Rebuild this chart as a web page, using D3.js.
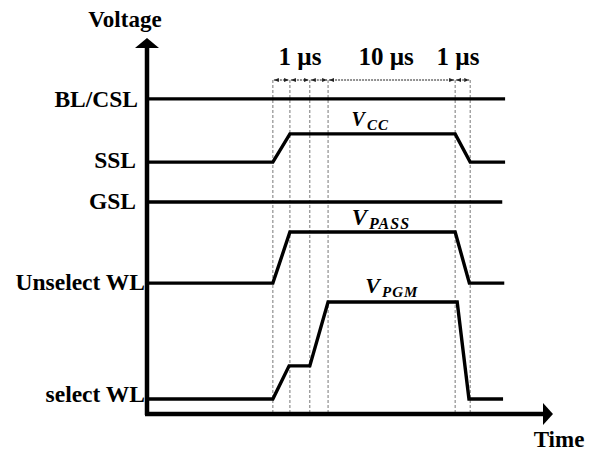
<!DOCTYPE html>
<html><head><meta charset="utf-8">
<script src="https://cdn.jsdelivr.net/npm/d3@7"></script>
<style>body{margin:0;background:#fff}svg{display:block}</style>
</head><body>
<script>
// ---- data (time and voltage in arbitrary units) ----
const signalNames = ["BL/CSL", "SSL", "GSL", "Unselect WL", "select WL"];
const blcsl   = [[0,83.8],[88.2,83.8]];
const ssl     = [[0,67.0],[31.0,67.0],[35.2,74.5],[75.9,74.5],[79.6,67.0],[88.2,67.0]];
const gsl     = [[0,56.4],[87.5,56.4]];
const unselWL = [[0,34.8],[31.0,34.8],[35.2,48.4],[75.9,48.4],[79.4,34.8],[88.0,34.8]];
const selWL   = [[0,4.0],[31.0,4.0],[35.0,12.8],[40.1,12.8],[44.6,29.8],[76.4,29.8],[79.3,4.0],[87.7,4.0]];
const signals = [blcsl, ssl, gsl, unselWL, selWL];
const labelLevels = [83.8, 67.0, 56.4, 34.8, 4.0];
const timeMarks = [31.0, 35.2, 40.1, 44.6, 75.9, 79.6];
const durationLabels = ["1 µs", "10 µs", "1 µs"];
const durationPos = [37.7, 58.9, 76.6];
const voltNames = [["V","CC"],["V","PASS"],["V","PGM"]];
const voltPos = [[55.0,76.5],[57.6,50.2],[60.3,32.2]];

// ---- layout ----
const W = 593, H = 452;
const x = d3.scaleLinear().domain([0,100]).range([147,553]);
const y = d3.scaleLinear().domain([0,100]).range([414,38]);
const serif = "'Liberation Serif','Times New Roman',serif";

const svg = d3.select("body").append("svg").attr("width",W).attr("height",H);
const defs = svg.append("defs");
defs.append("marker").attr("id","ah").attr("viewBox","0 0 10 10").attr("refX",10).attr("refY",5)
  .attr("markerWidth",5).attr("markerHeight",5).attr("orient","auto-start-reverse")
  .append("path").attr("d","M0,1L10,5L0,9Z").attr("fill","#222");

// dashed vertical time markers
svg.append("g").selectAll("line").data(timeMarks).join("line")
  .attr("x1",d=>x(d)).attr("x2",d=>x(d)).attr("y1",80).attr("y2",y(0))
  .attr("stroke","#777").attr("stroke-width",1).attr("stroke-dasharray","3,2");

// duration dimension arrows
const segs = d3.pairs(timeMarks);
svg.append("g").selectAll("line").data(segs).join("line")
  .attr("x1",d=>x(d[0])+1).attr("x2",d=>x(d[1])-1).attr("y1",80).attr("y2",80)
  .attr("stroke","#222").attr("stroke-width",1).attr("stroke-dasharray","2,1")
  .attr("marker-start","url(#ah)").attr("marker-end","url(#ah)");

svg.append("g").selectAll("text").data(durationLabels).join("text")
  .attr("x",(d,i)=>x(durationPos[i])).attr("y",65).attr("text-anchor","middle")
  .attr("font-family",serif).attr("font-weight","bold").attr("font-size",25).text(d=>d);

// signals
const line = d3.line().x(d=>x(d[0])).y(d=>y(d[1]));
svg.append("g").selectAll("path").data(signals).join("path")
  .attr("d",line).attr("fill","none").attr("stroke","#000").attr("stroke-width",3.4)
  .attr("stroke-linejoin","miter");

// signal names
const nameRight = [138,136,136,145,145];
const nameDy = [8,6,7,7,3];
svg.append("g").selectAll("text").data(signalNames).join("text")
  .attr("x",(d,i)=>nameRight[i]).attr("y",(d,i)=>y(labelLevels[i])+nameDy[i])
  .attr("text-anchor","end").attr("font-family",serif).attr("font-weight","bold")
  .attr("font-size",23.5).text(d=>d);

// voltage labels
const vSizes = [[20,15],[23,16],[22,15]];
const vt = svg.append("g").selectAll("text").data(voltNames).join("text")
  .attr("x",(d,i)=>x(voltPos[i][0])).attr("y",(d,i)=>y(voltPos[i][1]))
  .attr("text-anchor","middle").attr("font-family",serif).attr("font-style","italic").attr("font-weight","bold");
vt.append("tspan").attr("font-size",(d,i)=>vSizes[i][0]).text(d=>d[0]);
vt.append("tspan").attr("font-size",(d,i)=>vSizes[i][1]).attr("dy",4).attr("dx",2)
  .attr("letter-spacing",1).text(d=>d[1]);

// axes
svg.append("line").attr("x1",x(0)).attr("x2",x(0)).attr("y1",y(0)+1).attr("y2",y(100)+6)
  .attr("stroke","#000").attr("stroke-width",4.5);
svg.append("line").attr("x1",x(0)-2).attr("x2",x(100)-6).attr("y1",y(0)).attr("y2",y(0))
  .attr("stroke","#000").attr("stroke-width",4.5);
svg.append("path").attr("d",`M${x(0)},${y(100)}L${x(0)-12},${y(100)+10}L${x(0)+12},${y(100)+10}Z`).attr("fill","#000");
svg.append("path").attr("d",`M${x(100)},${y(0)}L${x(100)-10},${y(0)-11}L${x(100)-10},${y(0)+11}Z`).attr("fill","#000");

svg.append("text").attr("x",125).attr("y",27).attr("text-anchor","middle")
  .attr("font-family",serif).attr("font-weight","bold").attr("font-size",23).text("Voltage");
svg.append("text").attr("x",559).attr("y",447).attr("text-anchor","middle")
  .attr("font-family",serif).attr("font-weight","bold").attr("font-size",23).text("Time");
</script>
</body></html>
